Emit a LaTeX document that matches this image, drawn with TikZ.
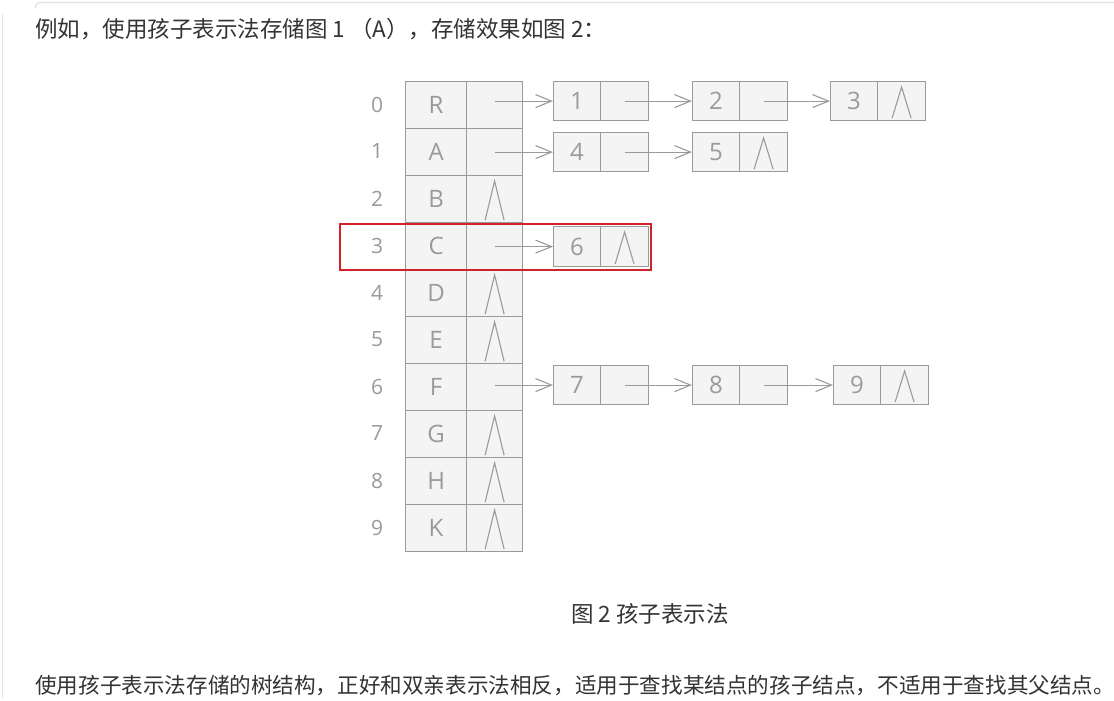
\documentclass[tikz,border=0pt]{standalone}
\usepackage{fontspec}
\setmainfont{Noto Sans CJK SC}
\newfontfamily\diagfont{Open Sans}
\usetikzlibrary{arrows.meta}
\definecolor{txt}{HTML}{333333}
\definecolor{lgray}{HTML}{9A9A9A}
\definecolor{cellfill}{HTML}{F4F4F4}
\definecolor{hlred}{HTML}{D2232A}
\definecolor{frame}{HTML}{E2E2E2}
\tikzset{
  cell/.style={draw=lgray, fill=cellfill, line width=1.2pt, inner sep=0pt, text=lgray,
    font=\diagfont\fontsize{24}{26}\selectfont},
  idx/.style={text=lgray, font=\diagfont\fontsize{21}{23}\selectfont},
  arr/.style={draw=lgray, line width=1.1pt, -{Straight Barb[length=16pt,width=13pt,line width=1.1pt]}},
  nullmark/.style={draw=lgray, line width=1.1pt},
  body/.style={text=txt, font=\fontsize{22.5}{26}\selectfont, inner sep=0pt},
  bodysmall/.style={text=txt, font=\fontsize{21.6}{26}\selectfont, inner sep=0pt}
}
\newcommand{\nullin}[1]{\draw[nullmark] ([xshift=-9.5pt,yshift=3pt]#1.south) -- ([yshift=-6pt]#1.north) -- ([xshift=9.5pt,yshift=3pt]#1.south);}
% child node: name, x-left, y-top, y-bottom, value
\newcommand{\childnode}[5]{%
  \node[cell, minimum width=47pt, minimum height={#4-#3}, anchor=north west] (#1a) at (#2,#3) {#5};
  \node[cell, minimum width=48pt, minimum height={#4-#3}, anchor=north west] (#1b) at (#2+47,#3) {};
}
\begin{document}
\begin{tikzpicture}[x=1pt,y=-1pt]
\useasboundingbox (0,0) rectangle (1114,701);
\fill[white] (0,0) rectangle (1114,701);
% page frame remnants
\draw[frame, line width=1.2pt] (1114,2.5) -- (41,2.5) arc[start angle=90,end angle=180,radius=6pt];
\draw[frame, line width=1.2pt] (2.5,14) -- (2.5,698);
% texts
\node[body, anchor=west] (t1) at (35,29) {例如，使用孩子表示法存储图 1 （A），存储效果如图 2：};
\node[body, anchor=center] (cap) at (650,614) {图 2 孩子表示法};
\node[bodysmall, anchor=west] (t2) at (35,686) {使用孩子表示法存储的树结构，正好和双亲表示法相反，适用于查找某结点的孩子结点，不适用于查找其父结点。};
% table
\foreach \i/\l in {0/R,1/A,2/B,3/C,4/D,5/E,6/F,7/G,8/H,9/K}{
  \node[cell, minimum width=61pt, minimum height=47pt, anchor=north west] (tL\i) at (405,81+47*\i) {\l};
  \node[cell, minimum width=56pt, minimum height=47pt, anchor=north west] (tR\i) at (466,81+47*\i) {};
  \node[idx] (ix\i) at (377,104.5+47*\i) {\i};
}
\foreach \i in {2,4,5,7,8,9}{\nullin{tR\i}}
% child nodes
\childnode{n1}{553}{81}{120}{1}
\childnode{n2}{692}{81}{120}{2}
\childnode{n3}{830}{81}{120}{3}
\childnode{n4}{553}{132}{171}{4}
\childnode{n5}{692}{132}{171}{5}
\childnode{n6}{553}{226}{266}{6}
\childnode{n7}{553}{365}{404}{7}
\childnode{n8}{692}{365}{404}{8}
\childnode{n9}{833}{365}{404}{9}
\foreach \n in {n3,n5,n6,n9}{\nullin{\n b}}
% pointer start coordinates in table
\coordinate (p0) at (tR0.center |- n1a.west);
\coordinate (p1) at (tR1.center |- n4a.west);
\coordinate (p3) at (tR3.center |- n6a.west);
\coordinate (p6) at (tR6.center |- n7a.west);
\draw[arr] (p0) -- (n1a.west);
\draw[arr] (p1) -- (n4a.west);
\draw[arr] (p3) -- (n6a.west);
\draw[arr] (p6) -- (n7a.west);
\draw[arr] (n1b.center) -- (n2a.west);
\draw[arr] (n2b.center) -- (n3a.west);
\draw[arr] (n4b.center) -- (n5a.west);
\draw[arr] (n7b.center) -- (n8a.west);
\draw[arr] (n8b.center) -- (n9a.west);
% highlight
\node[draw=hlred, line width=1.6pt, minimum width=311pt, minimum height=46pt, anchor=north west, inner sep=0pt] (hl) at (339,223) {};
\end{tikzpicture}
\end{document}
